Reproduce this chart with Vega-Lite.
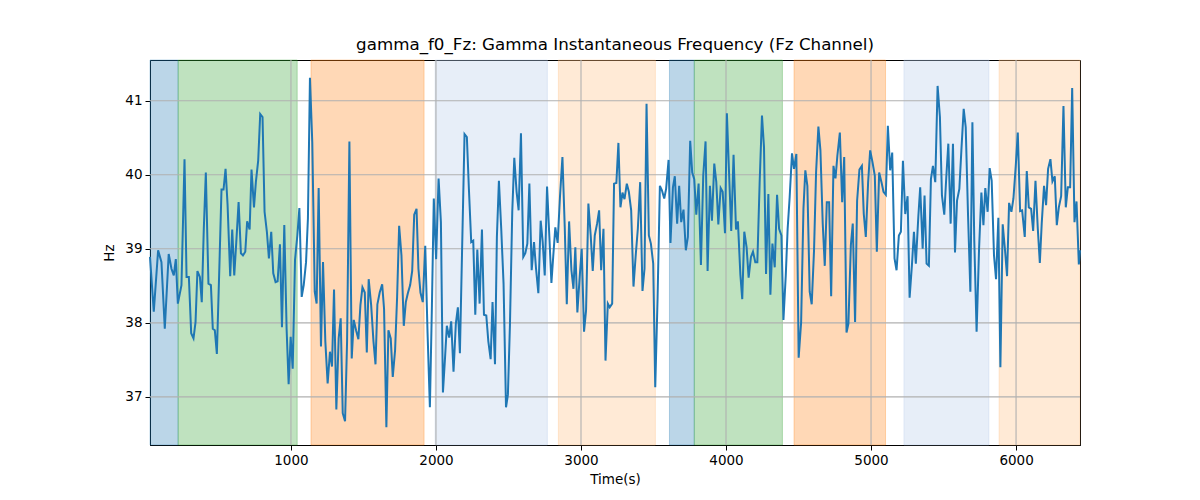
{
  "$schema": "https://vega.github.io/schema/vega-lite/v6.json",
  "autosize": {"type": "none"},
  "width": 930,
  "height": 385,
  "padding": {"left": 150, "top": 60, "right": 120, "bottom": 55},
  "title": {
    "text": "gamma_f0_Fz: Gamma Instantaneous Frequency (Fz Channel)",
    "font": "DejaVu Sans",
    "fontSize": 16.7,
    "fontWeight": "normal",
    "color": "black",
    "offset": 6
  },
  "config": {
    "font": "DejaVu Sans",
    "view": {"stroke": "black", "strokeWidth": 1},
    "axis": {
      "grid": false,
      "zindex": 1,
      "domainColor": "black",
      "tickColor": "black",
      "tickSize": 5,
      "labelFontSize": 13.5,
      "labelColor": "black",
      "labelPadding": 3,
      "titleFontSize": 13.5,
      "titleFontWeight": "normal",
      "titleColor": "black"
    }
  },
  "datasets": {
    "bands": [
      {"start": 28, "end": 222, "kind": "a"},
      {"start": 222, "end": 1043, "kind": "b"},
      {"start": 1138, "end": 1918, "kind": "c"},
      {"start": 1994, "end": 2768, "kind": "d"},
      {"start": 2844, "end": 3513, "kind": "e"},
      {"start": 3610, "end": 3781, "kind": "a"},
      {"start": 3781, "end": 4389, "kind": "b"},
      {"start": 4469, "end": 5100, "kind": "c"},
      {"start": 5227, "end": 5813, "kind": "d"},
      {"start": 5883, "end": 6441, "kind": "e"}
    ],
    "xgrid": [{"v": 1000}, {"v": 2000}, {"v": 3000}, {"v": 4000}, {"v": 5000}, {"v": 6000}],
    "ygrid": [{"v": 37}, {"v": 38}, {"v": 39}, {"v": 40}, {"v": 41}],
    "series": [
      {"t": 28, "hz": 38.89}, {"t": 54, "hz": 38.15}, {"t": 84, "hz": 38.98}, {"t": 107, "hz": 38.82},
      {"t": 130, "hz": 37.92}, {"t": 157, "hz": 38.93}, {"t": 176, "hz": 38.73}, {"t": 192, "hz": 38.64},
      {"t": 206, "hz": 38.86}, {"t": 220, "hz": 38.26}, {"t": 245, "hz": 38.51}, {"t": 266, "hz": 40.21},
      {"t": 280, "hz": 38.62}, {"t": 296, "hz": 38.62}, {"t": 312, "hz": 37.86}, {"t": 328, "hz": 37.79},
      {"t": 342, "hz": 38.01}, {"t": 355, "hz": 38.70}, {"t": 372, "hz": 38.62}, {"t": 385, "hz": 38.28},
      {"t": 399, "hz": 39.27}, {"t": 413, "hz": 40.03}, {"t": 431, "hz": 38.53}, {"t": 448, "hz": 38.51},
      {"t": 461, "hz": 37.92}, {"t": 475, "hz": 37.90}, {"t": 489, "hz": 37.58}, {"t": 507, "hz": 38.80},
      {"t": 521, "hz": 39.80}, {"t": 535, "hz": 39.80}, {"t": 549, "hz": 40.08}, {"t": 563, "hz": 39.59},
      {"t": 581, "hz": 38.63}, {"t": 595, "hz": 39.26}, {"t": 609, "hz": 38.64}, {"t": 623, "hz": 39.09},
      {"t": 639, "hz": 39.63}, {"t": 655, "hz": 38.94}, {"t": 669, "hz": 38.91}, {"t": 685, "hz": 38.96},
      {"t": 698, "hz": 39.37}, {"t": 715, "hz": 39.26}, {"t": 728, "hz": 40.07}, {"t": 745, "hz": 39.56},
      {"t": 758, "hz": 39.90}, {"t": 774, "hz": 40.19}, {"t": 788, "hz": 40.82}, {"t": 804, "hz": 40.78},
      {"t": 818, "hz": 39.50}, {"t": 834, "hz": 39.23}, {"t": 848, "hz": 38.87}, {"t": 864, "hz": 39.23},
      {"t": 878, "hz": 38.67}, {"t": 894, "hz": 38.55}, {"t": 908, "hz": 38.56}, {"t": 924, "hz": 39.06},
      {"t": 938, "hz": 37.94}, {"t": 954, "hz": 39.32}, {"t": 970, "hz": 37.92}, {"t": 984, "hz": 37.17},
      {"t": 998, "hz": 37.81}, {"t": 1012, "hz": 37.38}, {"t": 1028, "hz": 38.85}, {"t": 1044, "hz": 39.18},
      {"t": 1058, "hz": 39.55}, {"t": 1074, "hz": 38.35}, {"t": 1088, "hz": 38.51}, {"t": 1104, "hz": 38.82},
      {"t": 1117, "hz": 39.41}, {"t": 1131, "hz": 41.31}, {"t": 1147, "hz": 40.44}, {"t": 1164, "hz": 38.42},
      {"t": 1177, "hz": 38.26}, {"t": 1191, "hz": 39.82}, {"t": 1207, "hz": 37.68}, {"t": 1221, "hz": 38.82},
      {"t": 1237, "hz": 37.75}, {"t": 1253, "hz": 37.18}, {"t": 1269, "hz": 37.61}, {"t": 1283, "hz": 37.41},
      {"t": 1297, "hz": 38.45}, {"t": 1313, "hz": 36.83}, {"t": 1329, "hz": 37.79}, {"t": 1343, "hz": 38.06},
      {"t": 1357, "hz": 36.78}, {"t": 1373, "hz": 36.67}, {"t": 1387, "hz": 37.75}, {"t": 1403, "hz": 40.45},
      {"t": 1419, "hz": 37.52}, {"t": 1433, "hz": 38.04}, {"t": 1449, "hz": 37.90}, {"t": 1465, "hz": 37.78},
      {"t": 1479, "hz": 38.24}, {"t": 1493, "hz": 38.48}, {"t": 1509, "hz": 38.41}, {"t": 1523, "hz": 37.60},
      {"t": 1536, "hz": 38.59}, {"t": 1553, "hz": 38.24}, {"t": 1569, "hz": 37.75}, {"t": 1583, "hz": 37.44},
      {"t": 1596, "hz": 38.25}, {"t": 1612, "hz": 38.41}, {"t": 1629, "hz": 38.52}, {"t": 1642, "hz": 38.19},
      {"t": 1658, "hz": 36.59}, {"t": 1672, "hz": 37.90}, {"t": 1688, "hz": 37.79}, {"t": 1702, "hz": 37.27},
      {"t": 1718, "hz": 37.63}, {"t": 1732, "hz": 38.35}, {"t": 1746, "hz": 39.31}, {"t": 1762, "hz": 38.91},
      {"t": 1778, "hz": 37.96}, {"t": 1792, "hz": 38.28}, {"t": 1806, "hz": 38.40}, {"t": 1822, "hz": 38.51},
      {"t": 1836, "hz": 38.70}, {"t": 1850, "hz": 39.46}, {"t": 1866, "hz": 39.54}, {"t": 1879, "hz": 38.73},
      {"t": 1893, "hz": 38.41}, {"t": 1909, "hz": 38.28}, {"t": 1926, "hz": 39.04}, {"t": 1942, "hz": 37.86},
      {"t": 1958, "hz": 36.86}, {"t": 1972, "hz": 38.23}, {"t": 1985, "hz": 39.68}, {"t": 2001, "hz": 38.86},
      {"t": 2018, "hz": 39.95}, {"t": 2034, "hz": 39.36}, {"t": 2048, "hz": 37.06}, {"t": 2061, "hz": 37.48},
      {"t": 2075, "hz": 37.96}, {"t": 2091, "hz": 37.80}, {"t": 2105, "hz": 38.02}, {"t": 2121, "hz": 37.34},
      {"t": 2137, "hz": 37.99}, {"t": 2151, "hz": 38.21}, {"t": 2165, "hz": 37.59}, {"t": 2197, "hz": 40.55},
      {"t": 2213, "hz": 40.51}, {"t": 2227, "hz": 39.81}, {"t": 2243, "hz": 39.09}, {"t": 2257, "hz": 39.11},
      {"t": 2271, "hz": 38.11}, {"t": 2285, "hz": 38.99}, {"t": 2301, "hz": 38.26}, {"t": 2317, "hz": 39.26},
      {"t": 2331, "hz": 38.11}, {"t": 2347, "hz": 38.10}, {"t": 2361, "hz": 37.75}, {"t": 2377, "hz": 37.51},
      {"t": 2390, "hz": 38.28}, {"t": 2407, "hz": 37.44}, {"t": 2420, "hz": 39.16}, {"t": 2434, "hz": 39.92},
      {"t": 2450, "hz": 39.27}, {"t": 2466, "hz": 38.53}, {"t": 2483, "hz": 36.86}, {"t": 2496, "hz": 37.03},
      {"t": 2510, "hz": 37.97}, {"t": 2526, "hz": 39.50}, {"t": 2540, "hz": 40.23}, {"t": 2556, "hz": 39.77},
      {"t": 2570, "hz": 39.52}, {"t": 2586, "hz": 40.56}, {"t": 2602, "hz": 38.89}, {"t": 2616, "hz": 38.94},
      {"t": 2630, "hz": 39.07}, {"t": 2644, "hz": 39.88}, {"t": 2660, "hz": 38.71}, {"t": 2676, "hz": 39.09},
      {"t": 2690, "hz": 38.73}, {"t": 2706, "hz": 38.40}, {"t": 2722, "hz": 39.38}, {"t": 2736, "hz": 39.09},
      {"t": 2750, "hz": 38.64}, {"t": 2766, "hz": 39.84}, {"t": 2782, "hz": 39.16}, {"t": 2796, "hz": 38.54},
      {"t": 2809, "hz": 38.91}, {"t": 2823, "hz": 39.29}, {"t": 2839, "hz": 39.08}, {"t": 2855, "hz": 39.70},
      {"t": 2872, "hz": 40.24}, {"t": 2888, "hz": 39.29}, {"t": 2902, "hz": 38.25}, {"t": 2918, "hz": 39.37},
      {"t": 2934, "hz": 38.71}, {"t": 2948, "hz": 38.46}, {"t": 2961, "hz": 39.02}, {"t": 2975, "hz": 38.14},
      {"t": 2991, "hz": 38.62}, {"t": 3005, "hz": 39.00}, {"t": 3021, "hz": 37.88}, {"t": 3035, "hz": 38.17},
      {"t": 3051, "hz": 39.61}, {"t": 3067, "hz": 39.18}, {"t": 3081, "hz": 38.70}, {"t": 3095, "hz": 39.18},
      {"t": 3111, "hz": 39.34}, {"t": 3125, "hz": 39.52}, {"t": 3139, "hz": 38.71}, {"t": 3155, "hz": 39.27},
      {"t": 3169, "hz": 37.49}, {"t": 3185, "hz": 38.26}, {"t": 3198, "hz": 38.21}, {"t": 3215, "hz": 38.26},
      {"t": 3228, "hz": 39.88}, {"t": 3244, "hz": 39.89}, {"t": 3258, "hz": 40.43}, {"t": 3272, "hz": 39.56},
      {"t": 3286, "hz": 39.76}, {"t": 3300, "hz": 39.67}, {"t": 3316, "hz": 39.88}, {"t": 3330, "hz": 39.77},
      {"t": 3346, "hz": 39.52}, {"t": 3362, "hz": 38.49}, {"t": 3378, "hz": 38.93}, {"t": 3392, "hz": 39.27},
      {"t": 3408, "hz": 39.90}, {"t": 3424, "hz": 38.43}, {"t": 3438, "hz": 38.73}, {"t": 3452, "hz": 40.96},
      {"t": 3468, "hz": 39.18}, {"t": 3482, "hz": 39.07}, {"t": 3498, "hz": 38.80}, {"t": 3512, "hz": 37.13},
      {"t": 3528, "hz": 38.33}, {"t": 3544, "hz": 39.85}, {"t": 3558, "hz": 39.79}, {"t": 3574, "hz": 39.68},
      {"t": 3587, "hz": 39.81}, {"t": 3604, "hz": 40.20}, {"t": 3617, "hz": 39.08}, {"t": 3634, "hz": 39.83},
      {"t": 3647, "hz": 39.98}, {"t": 3663, "hz": 39.34}, {"t": 3677, "hz": 39.85}, {"t": 3691, "hz": 39.36},
      {"t": 3707, "hz": 39.53}, {"t": 3723, "hz": 38.98}, {"t": 3737, "hz": 39.16}, {"t": 3753, "hz": 40.46},
      {"t": 3767, "hz": 40.03}, {"t": 3781, "hz": 39.94}, {"t": 3795, "hz": 39.46}, {"t": 3811, "hz": 39.88},
      {"t": 3827, "hz": 38.78}, {"t": 3843, "hz": 39.99}, {"t": 3859, "hz": 40.45}, {"t": 3873, "hz": 38.70},
      {"t": 3889, "hz": 39.85}, {"t": 3903, "hz": 39.38}, {"t": 3919, "hz": 40.15}, {"t": 3933, "hz": 39.90},
      {"t": 3947, "hz": 39.33}, {"t": 3963, "hz": 39.82}, {"t": 3977, "hz": 39.77}, {"t": 3993, "hz": 39.21},
      {"t": 4006, "hz": 40.83}, {"t": 4023, "hz": 39.92}, {"t": 4036, "hz": 39.24}, {"t": 4052, "hz": 40.27},
      {"t": 4069, "hz": 39.26}, {"t": 4082, "hz": 39.37}, {"t": 4099, "hz": 38.65}, {"t": 4112, "hz": 38.32},
      {"t": 4126, "hz": 39.23}, {"t": 4142, "hz": 39.02}, {"t": 4156, "hz": 38.61}, {"t": 4172, "hz": 38.89},
      {"t": 4186, "hz": 38.96}, {"t": 4202, "hz": 38.82}, {"t": 4216, "hz": 38.82}, {"t": 4232, "hz": 39.90},
      {"t": 4248, "hz": 40.80}, {"t": 4262, "hz": 40.37}, {"t": 4276, "hz": 38.66}, {"t": 4292, "hz": 39.74},
      {"t": 4306, "hz": 38.38}, {"t": 4320, "hz": 39.07}, {"t": 4336, "hz": 38.75}, {"t": 4352, "hz": 39.73},
      {"t": 4366, "hz": 39.27}, {"t": 4382, "hz": 39.18}, {"t": 4396, "hz": 38.04}, {"t": 4412, "hz": 38.64},
      {"t": 4425, "hz": 39.27}, {"t": 4439, "hz": 39.70}, {"t": 4455, "hz": 40.29}, {"t": 4469, "hz": 40.08},
      {"t": 4485, "hz": 40.28}, {"t": 4501, "hz": 37.53}, {"t": 4518, "hz": 38.01}, {"t": 4534, "hz": 39.54},
      {"t": 4547, "hz": 40.06}, {"t": 4561, "hz": 39.85}, {"t": 4577, "hz": 38.42}, {"t": 4591, "hz": 38.25},
      {"t": 4607, "hz": 38.98}, {"t": 4621, "hz": 40.03}, {"t": 4637, "hz": 40.65}, {"t": 4651, "hz": 40.33},
      {"t": 4667, "hz": 39.34}, {"t": 4681, "hz": 38.77}, {"t": 4695, "hz": 39.63}, {"t": 4711, "hz": 39.63},
      {"t": 4725, "hz": 38.36}, {"t": 4741, "hz": 40.12}, {"t": 4755, "hz": 39.95}, {"t": 4768, "hz": 40.26},
      {"t": 4785, "hz": 40.57}, {"t": 4801, "hz": 39.63}, {"t": 4815, "hz": 40.24}, {"t": 4831, "hz": 37.87},
      {"t": 4844, "hz": 37.99}, {"t": 4861, "hz": 39.05}, {"t": 4874, "hz": 39.34}, {"t": 4890, "hz": 38.01},
      {"t": 4904, "hz": 39.65}, {"t": 4920, "hz": 40.07}, {"t": 4937, "hz": 40.12}, {"t": 4950, "hz": 39.47},
      {"t": 4964, "hz": 39.16}, {"t": 4980, "hz": 39.90}, {"t": 4994, "hz": 40.33}, {"t": 5010, "hz": 40.17},
      {"t": 5026, "hz": 39.99}, {"t": 5040, "hz": 38.96}, {"t": 5056, "hz": 40.03}, {"t": 5072, "hz": 39.90},
      {"t": 5086, "hz": 39.77}, {"t": 5102, "hz": 39.73}, {"t": 5116, "hz": 40.66}, {"t": 5132, "hz": 40.06},
      {"t": 5146, "hz": 40.30}, {"t": 5162, "hz": 38.87}, {"t": 5176, "hz": 38.71}, {"t": 5192, "hz": 39.18},
      {"t": 5206, "hz": 39.23}, {"t": 5220, "hz": 40.19}, {"t": 5236, "hz": 39.47}, {"t": 5252, "hz": 39.71},
      {"t": 5266, "hz": 38.34}, {"t": 5282, "hz": 38.78}, {"t": 5296, "hz": 39.23}, {"t": 5309, "hz": 38.80},
      {"t": 5326, "hz": 39.43}, {"t": 5339, "hz": 39.83}, {"t": 5356, "hz": 39.00}, {"t": 5369, "hz": 39.72},
      {"t": 5383, "hz": 38.80}, {"t": 5399, "hz": 38.77}, {"t": 5413, "hz": 39.94}, {"t": 5427, "hz": 40.12},
      {"t": 5443, "hz": 39.90}, {"t": 5459, "hz": 41.20}, {"t": 5475, "hz": 40.78}, {"t": 5489, "hz": 39.72},
      {"t": 5505, "hz": 39.46}, {"t": 5519, "hz": 39.97}, {"t": 5533, "hz": 40.42}, {"t": 5549, "hz": 39.34},
      {"t": 5565, "hz": 40.42}, {"t": 5579, "hz": 38.95}, {"t": 5593, "hz": 39.65}, {"t": 5609, "hz": 39.81},
      {"t": 5623, "hz": 40.33}, {"t": 5639, "hz": 40.89}, {"t": 5653, "hz": 40.64}, {"t": 5669, "hz": 39.45},
      {"t": 5685, "hz": 38.42}, {"t": 5699, "hz": 40.71}, {"t": 5712, "hz": 39.11}, {"t": 5728, "hz": 37.88},
      {"t": 5745, "hz": 39.00}, {"t": 5761, "hz": 39.76}, {"t": 5775, "hz": 39.32}, {"t": 5788, "hz": 39.82},
      {"t": 5804, "hz": 39.50}, {"t": 5818, "hz": 40.09}, {"t": 5832, "hz": 39.92}, {"t": 5848, "hz": 38.91},
      {"t": 5862, "hz": 38.59}, {"t": 5878, "hz": 39.42}, {"t": 5892, "hz": 37.40}, {"t": 5908, "hz": 39.33},
      {"t": 5924, "hz": 38.98}, {"t": 5938, "hz": 38.63}, {"t": 5952, "hz": 39.62}, {"t": 5968, "hz": 39.50},
      {"t": 5982, "hz": 39.68}, {"t": 5998, "hz": 40.12}, {"t": 6012, "hz": 40.57}, {"t": 6028, "hz": 39.51},
      {"t": 6042, "hz": 39.52}, {"t": 6060, "hz": 39.16}, {"t": 6074, "hz": 40.05}, {"t": 6088, "hz": 39.56},
      {"t": 6104, "hz": 39.54}, {"t": 6118, "hz": 39.24}, {"t": 6134, "hz": 39.92}, {"t": 6150, "hz": 39.27},
      {"t": 6164, "hz": 38.81}, {"t": 6177, "hz": 39.34}, {"t": 6193, "hz": 39.85}, {"t": 6207, "hz": 39.59},
      {"t": 6221, "hz": 40.08}, {"t": 6237, "hz": 40.21}, {"t": 6251, "hz": 39.91}, {"t": 6267, "hz": 39.98},
      {"t": 6281, "hz": 39.32}, {"t": 6295, "hz": 39.56}, {"t": 6311, "hz": 39.71}, {"t": 6327, "hz": 40.93},
      {"t": 6343, "hz": 39.56}, {"t": 6357, "hz": 39.83}, {"t": 6373, "hz": 39.83}, {"t": 6387, "hz": 41.17},
      {"t": 6403, "hz": 39.36}, {"t": 6417, "hz": 39.64}, {"t": 6433, "hz": 38.79}, {"t": 6441, "hz": 38.98}
    ]
  },
  "layer": [
    {
      "data": {"name": "bands"},
      "mark": {"type": "rect", "fillOpacity": 0.3, "strokeOpacity": 0.3, "strokeWidth": 1},
      "encoding": {
        "x": {
          "field": "start",
          "type": "quantitative",
          "scale": {"domain": [28, 6441], "nice": false, "zero": false},
          "axis": {"values": [1000, 2000, 3000, 4000, 5000, 6000], "format": "d", "title": "Time(s)", "titlePadding": 6},
          "title": "Time(s)"
        },
        "x2": {"field": "end"},
        "color": {
          "field": "kind",
          "type": "nominal",
          "scale": {"domain": ["a", "b", "c", "d", "e"], "range": ["#1f77b4", "#2ca02c", "#ff7f0e", "#aec7e8", "#ffbb78"]},
          "legend": null
        },
        "stroke": {
          "field": "kind",
          "type": "nominal",
          "scale": {"domain": ["a", "b", "c", "d", "e"], "range": ["#1f77b4", "#2ca02c", "#ff7f0e", "#aec7e8", "#ffbb78"]},
          "legend": null
        }
      }
    },
    {
      "data": {"name": "xgrid"},
      "mark": {"type": "rule", "color": "#b0b0b0", "strokeWidth": 1.1},
      "encoding": {"x": {"field": "v", "type": "quantitative"}}
    },
    {
      "data": {"name": "ygrid"},
      "mark": {"type": "rule", "color": "#b0b0b0", "strokeWidth": 1.1},
      "encoding": {"y": {"field": "v", "type": "quantitative"}}
    },
    {
      "data": {"name": "series"},
      "mark": {"type": "line", "color": "#1f77b4", "strokeWidth": 2},
      "encoding": {
        "x": {"field": "t", "type": "quantitative"},
        "y": {
          "field": "hz",
          "type": "quantitative",
          "scale": {"domain": [36.35, 41.55], "nice": false, "zero": false},
          "axis": {"values": [37, 38, 39, 40, 41], "format": "d", "title": "Hz", "titlePadding": 8},
          "title": "Hz"
        }
      }
    }
  ]
}
